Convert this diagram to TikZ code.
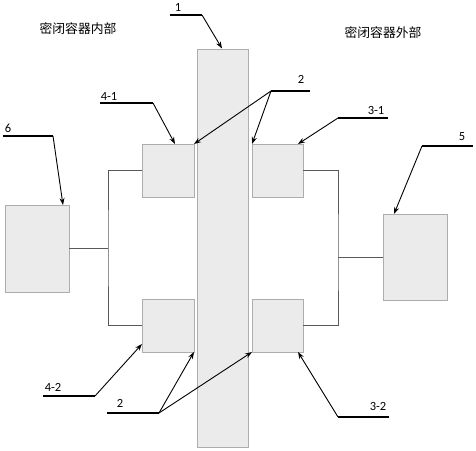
\documentclass[tikz,border=0pt]{standalone}
\usepackage{fontspec}
\setmainfont{Carlito}
\newfontfamily\cjk{Noto Sans CJK SC}
\usetikzlibrary{arrows.meta}
\begin{document}
\begin{tikzpicture}[x=1pt,y=-1pt,
  box/.style={draw=black!32,fill=black!8,inner sep=0pt,outer sep=0pt,anchor=north west,line width=0.8pt},
  wire/.style={draw=black!65,line width=0.9pt},
  lead/.style={draw=black,line width=1.3pt},
  ptr/.style={draw=black,line width=0.9pt,-{Stealth[length=7pt,width=5pt]}},
  lbl/.style={font=\fontsize{12.5}{14}\selectfont,inner sep=0pt},
  cn/.style={font=\cjk\fontsize{12.8}{14}\selectfont,inner sep=0pt}]
\useasboundingbox (0,0) rectangle (476,450);
% boxes
\node[box,minimum width=51pt,minimum height=398pt] (bar) at (197,49) {};
\node[box,minimum width=52pt,minimum height=53pt] (b41) at (142,144) {};
\node[box,minimum width=51pt,minimum height=53pt] (b31) at (252,144) {};
\node[box,minimum width=52pt,minimum height=53pt] (b42) at (142,299) {};
\node[box,minimum width=51pt,minimum height=53pt] (b32) at (252,299) {};
\node[box,minimum width=64pt,minimum height=87pt] (b6) at (5,205) {};
\node[box,minimum width=64pt,minimum height=86pt] (b5) at (383,214) {};
% wiring
\coordinate (jl) at (108,248.5);
\coordinate (jr) at (338,257);
\draw[wire] (b41.west) -| (jl) |- (b42.west);
\draw[wire] (b6.east) -- (jl);
\draw[wire] (b31.east) -| (jr) |- (b32.east);
\draw[wire] (b5.west) -- (jr);
% region titles
\node[cn] (tin) at (78,29) {密闭容器内部};
\node[cn] (tout) at (383,33) {密闭容器外部};
% label 1
\coordinate (l1a) at (170,15); \coordinate (l1b) at (202,15);
\draw[lead] (l1a) -- (l1b);
\node[lbl] (t1) at (178,7) {1};
\draw[ptr] (l1b) -- (222,48.5);
% label 2 upper
\coordinate (l2a) at (271,91); \coordinate (l2b) at (310,91);
\draw[lead] (l2a) -- (l2b);
\node[lbl] (t2u) at (301,79) {2};
\draw[ptr] (l2a) -- (b41.north east);
\draw[ptr] (l2a) -- (b31.north west);
% label 4-1
\coordinate (l41a) at (100,103); \coordinate (l41b) at (153,103);
\draw[lead] (l41a) -- (l41b);
\node[lbl] (t41) at (109,96) {4-1};
\draw[ptr] (l41b) -- (175,144);
% label 3-1
\coordinate (l31a) at (338,118); \coordinate (l31b) at (388,118);
\draw[lead] (l31a) -- (l31b);
\node[lbl] (t31) at (376,110) {3-1};
\draw[ptr] (l31a) -- (298,144);
% label 6
\coordinate (l6a) at (3,136); \coordinate (l6b) at (53,136);
\draw[lead] (l6a) -- (l6b);
\node[lbl] (t6) at (8,128) {6};
\draw[ptr] (l6b) -- (63,205);
% label 5
\coordinate (l5a) at (422,146); \coordinate (l5b) at (473,146);
\draw[lead] (l5a) -- (l5b);
\node[lbl] (t5) at (462,137) {5};
\draw[ptr] (l5a) -- (394,214);
% label 4-2
\coordinate (l42a) at (43,396); \coordinate (l42b) at (95,396);
\draw[lead] (l42a) -- (l42b);
\node[lbl] (t42) at (53,387) {4-2};
\draw[ptr] (l42b) -- (142,344);
% label 2 lower
\coordinate (l2c) at (107,413); \coordinate (l2d) at (159,413);
\draw[lead] (l2c) -- (l2d);
\node[lbl] (t2l) at (120,403) {2};
\draw[ptr] (l2d) -- (b42.south east);
\draw[ptr] (l2d) -- (b32.south west);
% label 3-2
\coordinate (l32a) at (338,417); \coordinate (l32b) at (389,417);
\draw[lead] (l32a) -- (l32b);
\node[lbl] (t32) at (378,406) {3-2};
\draw[ptr] (l32a) -- (298,352);
\end{tikzpicture}
\end{document}
